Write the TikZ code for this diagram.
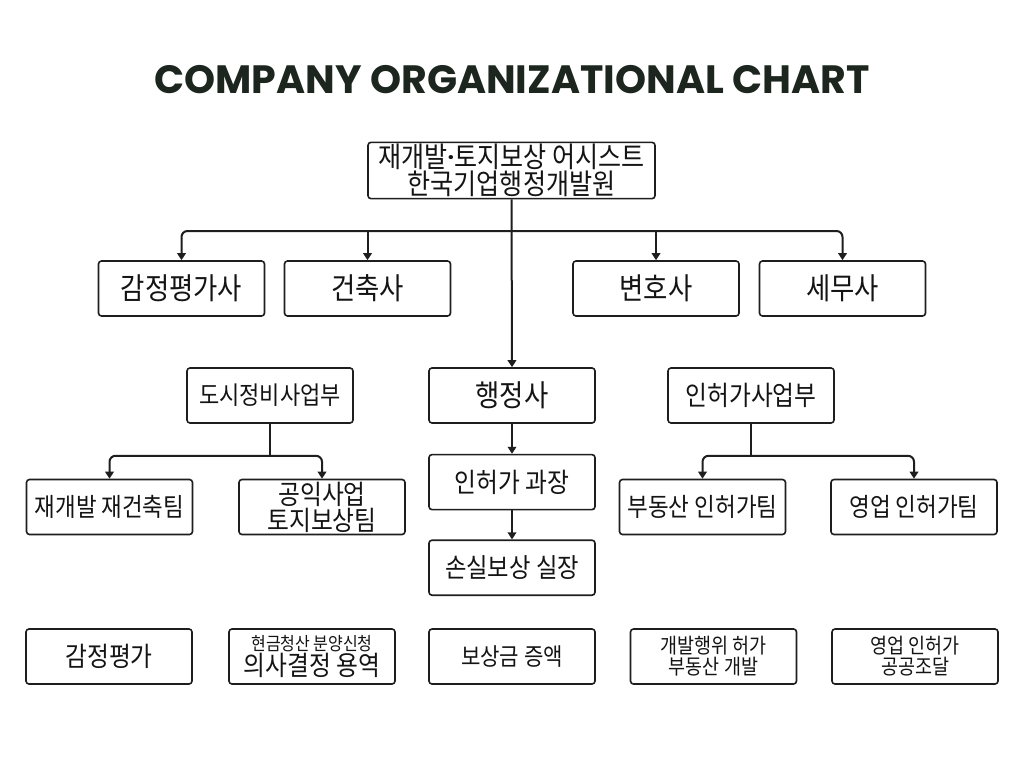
\documentclass[tikz,border=0pt]{standalone}
\usepackage{fontspec}
\newfontfamily\krfont[FakeStretch=0.88]{Noto Sans CJK KR}
\newfontfamily\titlefont{Poppins}
\usepackage{xcolor}
\definecolor{orgline}{HTML}{1E1E1E}
\definecolor{orgtext}{HTML}{141414}
\definecolor{orghead}{HTML}{1C261E}
\usepackage{tikz}
\usetikzlibrary{arrows.meta,positioning}
\newcommand{\middot}{\raisebox{3pt}{\titlefont\bfseries\fontsize{22}{22}\selectfont ·}}
\tikzset{
  orgbox/.style={draw=orgline,line width=1.6pt,rounded corners=3pt,fill=white,minimum width=166pt,minimum height=55pt,inner sep=2pt,align=center,text=orgtext},
  orgflow/.style={-{Triangle[length=7pt,width=8.5pt]},line width=2pt,draw=orgline},
  orgline/.style={line width=2pt,draw=orgline},
  orgtitle/.style={font=\titlefont\bfseries\fontsize{39.5}{44}\selectfont,text=orghead},
  fsA/.style={font=\krfont\fontsize{30}{32}\selectfont},
  fsB/.style={font=\krfont\fontsize{27}{26}\selectfont},
  fsC/.style={font=\krfont\fontsize{26.5}{26}\selectfont},
  fsD/.style={font=\krfont\fontsize{21}{21}\selectfont},
}
\begin{document}
\begin{tikzpicture}[x=1pt,y=-1pt,node distance=30pt]
\useasboundingbox[fill=white] (0,0) rectangle (1024,768);
\node[orgtitle] (title) at (512,80) {COMPANY ORGANIZATIONAL CHART};
\node[orgbox,minimum width=287pt,font=\krfont\fontsize{28.5}{26.5}\selectfont] (top) at (511.5,170.5) {재개발\middot 토지보상 어시스트\\한국기업행정개발원};
\node[orgbox,fsA] (gp) at (181.5,288.5) {감정평가사};
\node[orgbox,fsA] (ar) at (367.5,288.5) {건축사};
\node[orgbox,fsA] (lw) at (656,288.5) {변호사};
\node[orgbox,fsA] (tax) at (842.5,288.5) {세무사};
\node[orgbox,font=\krfont\fontsize{25}{26}\selectfont] (ub) at (270,395.5) {도시정비사업부};
\node[orgbox,fsA] (hs) at (512,395.5) {행정사};
\node[orgbox,fsB] (pb) at (751,395.5) {인허가사업부};
\node[orgbox,font=\krfont\fontsize{25.5}{26}\selectfont] (rt) at (109.5,507) {재개발 재건축팀};
\node[orgbox,fsB] (lt) at (322,507) {공익사업\\토지보상팀};
\node[orgbox,fsB,below=of hs] (pm) {인허가 과장};
\node[orgbox,fsC,below=29pt of pm] (lm) {손실보상 실장};
\node[orgbox,font=\krfont\fontsize{25.6}{26}\selectfont] (pt) at (702.5,507) {부동산 인허가팀};
\node[orgbox,font=\krfont\fontsize{25.6}{26}\selectfont] (bt) at (914,507) {영업 인허가팀};
\node[orgbox,fsB] (ap) at (109,656.5) {감정평가};
\node[orgbox,font=\krfont\fontsize{18.2}{22}\selectfont] (cs) at (312,656.5) {{\fontsize{18.2}{22}\selectfont 현금청산 분양신청}\\{\fontsize{27}{22}\selectfont 의사결정 용역}};
\node[orgbox,font=\krfont\fontsize{24}{26}\selectfont] (ci) at (512,656.5) {보상금 증액};
\node[orgbox,fsD] (dv) at (713.5,656.5) {개발행위 허가\\부동산 개발};
\node[orgbox,fsD] (pp) at (915,656.5) {영업 인허가\\공공조달};
\coordinate (bus) at (top.south |- 0,231);
\draw[orgflow] (top.south) -- (hs.north);
\draw[orgflow,rounded corners=6pt] (bus) -| (gp.north);
\draw[orgflow,rounded corners=6pt] (bus) -| (tax.north);
\draw[orgflow] (ar.north |- bus) -- (ar.north);
\draw[orgflow] (lw.north |- bus) -- (lw.north);
\coordinate[below=32pt of ub.south] (ubbus);
\draw[orgline] (ub.south) -- (ubbus);
\draw[orgflow,rounded corners=6pt] (ubbus) -| (rt.north);
\draw[orgflow,rounded corners=6pt] (ubbus) -| (lt.north);
\coordinate[below=32pt of pb.south] (pbbus);
\draw[orgline] (pb.south) -- (pbbus);
\draw[orgflow,rounded corners=6pt] (pbbus) -| (pt.north);
\draw[orgflow,rounded corners=6pt] (pbbus) -| (bt.north);
\draw[orgflow] (hs.south) -- (pm.north);
\draw[orgflow] (pm.south) -- (lm.north);
\end{tikzpicture}
\end{document}
